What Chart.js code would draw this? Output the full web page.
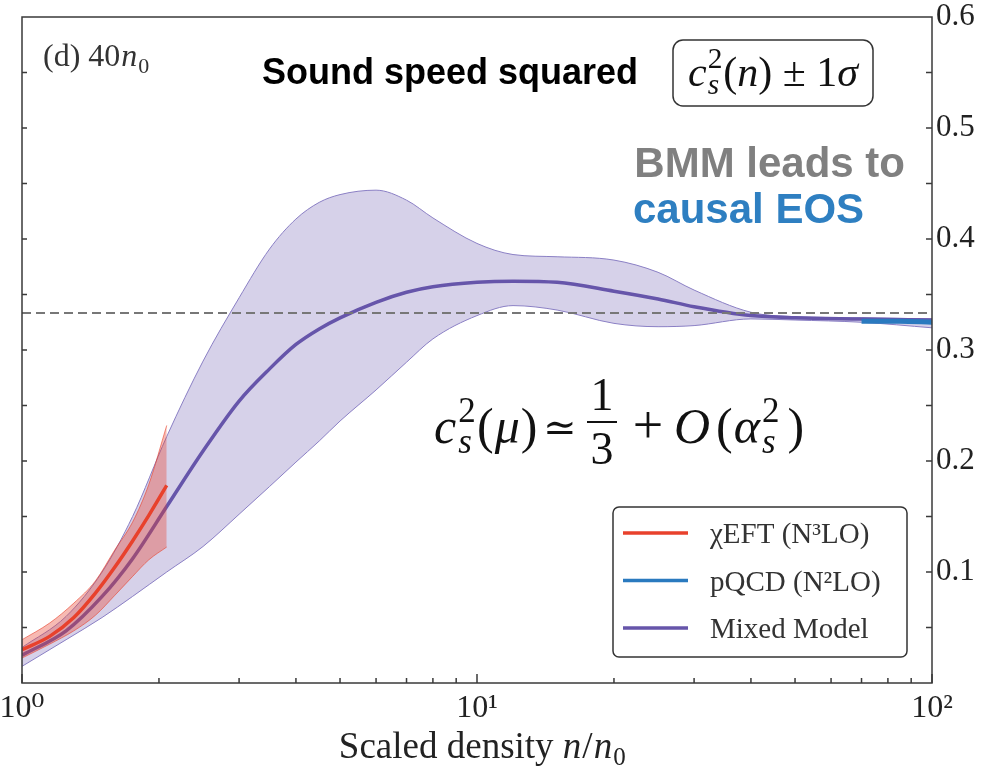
<!DOCTYPE html>
<html lang="en">
<head>
    <meta charset="UTF-8">
    <title>Sound speed squared</title>
    <script src="https://cdn.jsdelivr.net/npm/chart.js@4.4.0/dist/chart.umd.min.js"></script>
    <style>
        body { margin: 0; background: #fff; }
        #wrap { width: 982px; height: 768px; }
    </style>
</head>
<body>
    <div id="wrap"><canvas id="chart" width="982" height="768"></canvas></div>

    <script>
        // Scaled density n/n0 (log axis)
        const mixedDensity = [1, 1.25, 1.5, 1.75, 2.08, 2.5, 3, 3.5, 4, 4.5, 5, 6, 7, 8, 10, 12, 15, 20, 25, 30, 40, 50, 70, 100];
        // Mixed model: median and +-1 sigma band
        const mixedMid   = [0.025, 0.047, 0.078, 0.112, 0.159, 0.209, 0.254, 0.283, 0.305, 0.319, 0.329, 0.343, 0.352, 0.357, 0.361, 0.362, 0.361, 0.353, 0.346, 0.339, 0.331, 0.329, 0.328, 0.327];
        const mixedUpper = [0.032, 0.060, 0.100, 0.150, 0.222, 0.290, 0.347, 0.391, 0.418, 0.433, 0.440, 0.444, 0.435, 0.419, 0.396, 0.386, 0.384, 0.381, 0.370, 0.354, 0.334, 0.330, 0.329, 0.328];
        const mixedLower = [0.015, 0.039, 0.059, 0.078, 0.100, 0.123, 0.152, 0.177, 0.199, 0.218, 0.236, 0.264, 0.289, 0.310, 0.331, 0.340, 0.336, 0.324, 0.321, 0.322, 0.328, 0.327, 0.325, 0.320];

        // chiEFT (N3LO)
        const eftDensity = [1, 1.15, 1.3, 1.45, 1.6, 1.75, 1.9, 2.08];
        const eftMid     = [0.030, 0.042, 0.059, 0.081, 0.1045, 0.128, 0.151, 0.178];
        const eftUpper   = [0.039, 0.054, 0.072, 0.092, 0.120, 0.145, 0.179, 0.232];
        const eftLower   = [0.0225, 0.035, 0.047, 0.061, 0.079, 0.096, 0.111, 0.1225];

        // pQCD (N2LO)
        const pqcdDensity = [70, 85, 100];
        const pqcdMid     = [0.326, 0.326, 0.325];

        // conformal limit 1/3
        const conformalDensity = [1, 100];
        const conformalValue = 1 / 3;

        const xTickValues = [1, 10, 100];
        const yTickValues = [0.1, 0.2, 0.3, 0.4, 0.5, 0.6];

        const SERIF = '"Liberation Serif", "DejaVu Serif", serif';
        const SANS = '"Liberation Sans", Arial, sans-serif';
        const PURPLE = '#6655aa';
        const RED = '#e8412c';
        const BLUE = '#2a7abf';

        const pts = (xs, ys) => xs.map((x, i) => ({ x: x, y: ys[i] }));
        const sup = ['\u2070', '\u00b9', '\u00b2'];

        function line(label, data, color, width, extra) {
            return Object.assign({
                label: label, data: data, borderColor: color, borderWidth: width,
                pointRadius: 0, fill: false, cubicInterpolationMode: 'monotone'
            }, extra || {});
        }

        const datasets = [
            line('mixed upper', pts(mixedDensity, mixedUpper), '#8a7fc4', 1,
                { fill: '+1', backgroundColor: 'rgba(106,90,176,0.28)', order: 9 }),
            line('mixed lower', pts(mixedDensity, mixedLower), '#8a7fc4', 1, { order: 8 }),
            line('Mixed Model', pts(mixedDensity, mixedMid), PURPLE, 3.5, { order: 7 }),
            line('eft upper', pts(eftDensity, eftUpper), 'rgba(232,65,44,0.6)', 1,
                { fill: '+1', backgroundColor: 'rgba(232,65,44,0.36)', order: 6 }),
            line('eft lower', pts(eftDensity, eftLower), 'rgba(232,65,44,0.6)', 1, { order: 5 }),
            line('\u03c7EFT (N\u00b3LO)', pts(eftDensity, eftMid), RED, 3.5, { order: 4 }),
            line('conformal', conformalDensity.map(x => ({ x: x, y: conformalValue })), '#777', 2,
                { borderDash: [9, 5], order: 3, cubicInterpolationMode: 'default' }),
            line('pQCD (N\u00b2LO)', pts(pqcdDensity, pqcdMid), BLUE, 5, { order: 1 })
        ];

        function txt(ctx, s, x, y, font, color) {
            ctx.font = font;
            ctx.fillStyle = color || '#111';
            ctx.fillText(s, x, y);
            return x + ctx.measureText(s).width;
        }

        // superscript + subscript stacked at the same x
        function supsub(ctx, x, y, supText, subText, size, color) {
            const a = txt(ctx, supText, x, y - size * 0.42, size * 0.7 + 'px ' + SERIF, color);
            const b = txt(ctx, subText, x, y + size * 0.2, 'italic ' + size * 0.7 + 'px ' + SERIF, color);
            return Math.max(a, b);
        }

        function roundRect(ctx, x, y, w, h, r) {
            ctx.beginPath();
            ctx.moveTo(x + r, y);
            ctx.arcTo(x + w, y, x + w, y + h, r);
            ctx.arcTo(x + w, y + h, x, y + h, r);
            ctx.arcTo(x, y + h, x, y, r);
            ctx.arcTo(x, y, x + w, y, r);
            ctx.closePath();
        }

        const framePlugin = {
            id: 'frame',
            afterDatasetsDraw(chart) {
                const ctx = chart.ctx, a = chart.chartArea;
                const xs = chart.scales.x, ys = chart.scales.y;
                ctx.save();
                ctx.strokeStyle = '#3a3a3a';
                ctx.lineWidth = 1.5;
                ctx.strokeRect(a.left, a.top, a.right - a.left, a.bottom - a.top);
                ctx.beginPath();
                // x ticks (log minor + major), pointing inward
                for (let d = 1; d <= 100; d *= 10) {
                    for (let m = 1; m < 10; m++) {
                        const v = d * m;
                        if (v > 100) break;
                        const px = xs.getPixelForValue(v);
                        const len = m === 1 ? 9 : 5;
                        ctx.moveTo(px, a.bottom);
                        ctx.lineTo(px, a.bottom - len);
                    }
                }
                // y ticks every 0.05 on both sides
                for (let k = 1; k < 12; k++) {
                    const py = ys.getPixelForValue(k * 0.05);
                    ctx.moveTo(a.left, py); ctx.lineTo(a.left + 5, py);
                    ctx.moveTo(a.right, py); ctx.lineTo(a.right - 6, py);
                }
                ctx.stroke();
                ctx.restore();
            },
            afterDraw(chart) {
                const ctx = chart.ctx;
                ctx.save();
                ctx.textBaseline = 'alphabetic';
                ctx.textAlign = 'left';

                // panel label
                let x = txt(ctx, '(d) 40', 43, 66, '32px ' + SERIF, '#333');
                x = txt(ctx, 'n', x + 1, 66, 'italic 32px ' + SERIF, '#333');
                txt(ctx, '0', x + 1, 73, '22px ' + SERIF, '#333');

                // header
                txt(ctx, 'Sound speed squared', 262, 84, 'bold 36px ' + SANS, '#000');
                ctx.strokeStyle = '#333';
                ctx.lineWidth = 1.5;
                roundRect(ctx, 673, 40, 200, 66, 10);
                ctx.stroke();
                let F = 42;
                x = txt(ctx, 'c', 688, 86, 'italic ' + F + 'px ' + SERIF);
                x = supsub(ctx, x + 1, 86, '2', 's', F) + 1;
                x = txt(ctx, '(', x, 86, F + 'px ' + SERIF);
                x = txt(ctx, 'n', x, 86, 'italic ' + F + 'px ' + SERIF);
                x = txt(ctx, ')', x, 86, F + 'px ' + SERIF);
                x = txt(ctx, ' \u00b1 1', x, 86, F + 'px ' + SERIF);
                txt(ctx, '\u03c3', x, 86, 'italic ' + F + 'px ' + SERIF);

                ctx.textAlign = 'right';
                txt(ctx, 'BMM leads to', 905, 177, 'bold 42px ' + SANS, '#808080');
                ctx.textAlign = 'left';
                txt(ctx, 'causal EOS', 633, 223, 'bold 42px ' + SANS, '#2e7fc1');

                // asymptotic formula
                F = 50;
                const by = 443;
                x = txt(ctx, 'c', 434, by, 'italic ' + F + 'px ' + SERIF);
                supsub(ctx, x + 2, by, '2', 's', F);
                x = txt(ctx, '(', 477, by, F + 'px ' + SERIF);
                x = txt(ctx, '\u03bc', x + 1, by, 'italic ' + F + 'px ' + SERIF);
                txt(ctx, ')', x + 1, by, F + 'px ' + SERIF);
                ctx.textAlign = 'center';
                txt(ctx, '\u2243', 560, by - 2, '40px ' + SERIF);
                const cx = 602;
                txt(ctx, '1', cx, by - 33, '46px ' + SERIF);
                txt(ctx, '3', cx, by + 21, '46px ' + SERIF);
                ctx.fillStyle = '#111';
                ctx.fillRect(cx - 15, by - 22, 30, 2);
                txt(ctx, '+', 648, by, '54px ' + SERIF);
                ctx.textAlign = 'left';
                x = txt(ctx, 'O', 674, by, 'italic ' + F + 'px ' + SERIF);
                x = txt(ctx, '(', 716, by, F + 'px ' + SERIF);
                x = txt(ctx, '\u03b1', x + 1, by, 'italic ' + F + 'px ' + SERIF);
                x = supsub(ctx, x + 2, by, '2', 's', F) + 8;
                txt(ctx, ')', x, by, F + 'px ' + SERIF);

                // legend
                ctx.fillStyle = 'rgba(255,255,255,0.85)';
                roundRect(ctx, 613, 507, 294, 150, 6);
                ctx.fill();
                ctx.strokeStyle = '#333';
                ctx.lineWidth = 1.5;
                ctx.stroke();
                const entries = [datasets[5], datasets[7], datasets[2]];
                entries.forEach((ds, i) => {
                    const ry = 533 + i * 47.5;
                    ctx.strokeStyle = ds.borderColor;
                    ctx.lineWidth = 3.5;
                    ctx.beginPath();
                    ctx.moveTo(623, ry); ctx.lineTo(688, ry);
                    ctx.stroke();
                    txt(ctx, ds.label, 710, ry + 10, '29px ' + SERIF, '#333');
                });

                // x axis title
                const ty = 758;
                const TF = 37;
                ctx.font = TF + 'px ' + SERIF;
                const w = ctx.measureText('Scaled density n/n').width + 15;
                x = 482 - w / 2;
                x = txt(ctx, 'Scaled density ', x, ty, TF + 'px ' + SERIF, '#222');
                x = txt(ctx, 'n', x, ty, 'italic ' + TF + 'px ' + SERIF, '#222');
                x = txt(ctx, '/', x + 1, ty, TF + 'px ' + SERIF, '#222');
                x = txt(ctx, 'n', x + 1, ty, 'italic ' + TF + 'px ' + SERIF, '#222');
                txt(ctx, '0', x + 1, ty + 7, '25px ' + SERIF, '#222');
                ctx.restore();
            }
        };

        new Chart(document.getElementById('chart'), {
            type: 'line',
            data: { datasets: datasets },
            options: {
                responsive: false,
                animation: false,
                layout: { padding: { left: 22, top: 17, right: 0, bottom: 0 } },
                plugins: { legend: { display: false }, tooltip: { enabled: false } },
                scales: {
                    x: {
                        type: 'logarithmic',
                        min: 1, max: 100,
                        grid: { display: false, drawTicks: false },
                        border: { display: false },
                        afterBuildTicks: s => { s.ticks = xTickValues.map(v => ({ value: v })); },
                        afterFit: s => { s.height = 85; s.paddingLeft = 0; s.paddingRight = 0; },
                        ticks: {
                            autoSkip: false, maxRotation: 0, padding: 6,
                            color: '#222',
                            font: { family: SERIF, size: 32 },
                            callback: v => '10' + sup[Math.round(Math.log10(v))]
                        }
                    },
                    y: {
                        position: 'right',
                        min: 0, max: 0.6,
                        grid: { display: false, drawTicks: false },
                        border: { display: false },
                        afterBuildTicks: s => { s.ticks = yTickValues.map(v => ({ value: v })); },
                        afterFit: s => { s.width = 50; s.paddingTop = 0; s.paddingBottom = 0; },
                        ticks: {
                            padding: 4, color: '#222',
                            font: { family: SERIF, size: 31 },
                            callback: v => v.toFixed(1)
                        }
                    }
                }
            },
            plugins: [framePlugin]
        });
    </script>
</body>
</html>
